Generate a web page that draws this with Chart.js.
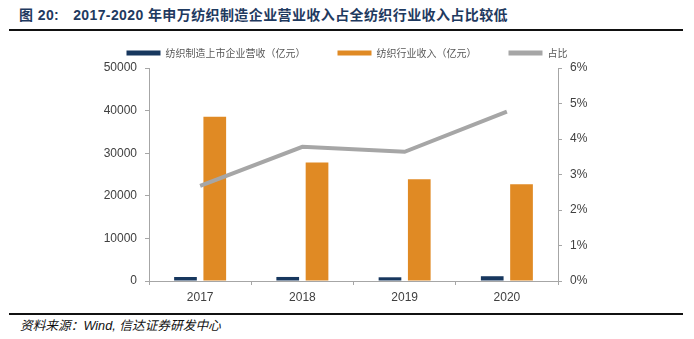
<!DOCTYPE html>
<html>
<head>
<meta charset="utf-8">
<script src="https://cdn.jsdelivr.net/npm/chart.js@4.4.1/dist/chart.umd.min.js"></script>
<style>
  html, body { margin: 0; padding: 0; background: #fff; }
  #page { position: relative; width: 694px; height: 339px; overflow: hidden; }
  #title { position: absolute; left: 19px; top: 4px; font: bold 14px "Liberation Sans", "Noto Sans CJK SC", sans-serif; color: #1f3a60; white-space: nowrap; letter-spacing: 0.4px; }
  #title .num { margin-right: 14px; }
  .rule { position: absolute; left: 9px; width: 674px; height: 2px; background: #111; }
  #source { position: absolute; left: 20px; top: 315px; font: italic 12.7px "Liberation Sans", "Noto Sans CJK SC", sans-serif; color: #111; white-space: nowrap; }
  #wrap { position: absolute; left: 0; top: 11px; width: 694px; height: 297px; }
</style>
</head>
<body>
<div id="page">
  <div id="title"><span class="num">图 20:</span>2017-2020 年申万纺织制造企业营业收入占全纺织行业收入占比较低</div>
  <div class="rule" style="top:29px"></div>
  <div id="wrap"><canvas id="chart"></canvas></div>
  <div class="rule" style="top:313px"></div>
  <div id="source">资料来源：Wind, 信达证券研发中心</div>
</div>
<script>
// 数据
var years = ["2017", "2018", "2019", "2020"];
var listedRevenue = [940, 950, 870, 1120];        // 纺织制造上市企业营收（亿元）
var industryRevenue = [38560, 27800, 23900, 22700]; // 纺织行业收入（亿元）
var sharePct = [2.68, 3.78, 3.64, 4.77];           // 占比 %
var leftTicks = [0, 10000, 20000, 30000, 40000, 50000];
var rightTicks = [0, 1, 2, 3, 4, 5, 6];

var axisGray = "#a6a6a6";
var tickFont = { family: "Liberation Sans", size: 12 };

var ctx = document.getElementById('chart').getContext('2d');
new Chart(ctx, {
  type: 'bar',
  data: {
    labels: years,
    datasets: [
      {
        label: "纺织制造上市企业营收（亿元）",
        data: listedRevenue,
        backgroundColor: "#17375e",
        yAxisID: 'y',
        order: 2,
        categoryPercentage: 0.573,
        barPercentage: 0.775
      },
      {
        label: "纺织行业收入（亿元）",
        data: industryRevenue,
        backgroundColor: "#e08a24",
        yAxisID: 'y',
        order: 2,
        categoryPercentage: 0.573,
        barPercentage: 0.775
      },
      {
        type: 'line',
        label: "占比",
        data: sharePct,
        borderColor: "#a6a6a6",
        backgroundColor: "#a6a6a6",
        borderWidth: 4,
        pointRadius: 0,
        tension: 0,
        yAxisID: 'y1',
        order: 1
      }
    ]
  },
  options: {
    responsive: true,
    maintainAspectRatio: false,
    animation: false,
    layout: { padding: 0 },
    plugins: {
      tooltip: { enabled: false },
      legend: {
        position: 'top',
        labels: {
          boxWidth: 34,
          boxHeight: 5,
          padding: 32,
          color: "#595959",
          font: { family: "Noto Sans CJK SC", size: 10 },
          generateLabels: function (chart) {
            return chart.data.datasets.map(function (ds, i) {
              return {
                text: ds.label,
                fillStyle: ds.backgroundColor,
                strokeStyle: ds.backgroundColor,
                lineWidth: 0,
                hidden: false,
                datasetIndex: i,
                fontColor: "#595959"
              };
            });
          }
        }
      }
    },
    scales: {
      x: {
        afterFit: function (s) { s.height = 27; },
        grid: { drawOnChartArea: false, drawTicks: true, tickLength: 4, color: axisGray, offset: true },
        border: { color: axisGray, width: 1 },
        ticks: { color: "#404040", font: tickFont, padding: 5 }
      },
      y: {
        position: 'left',
        min: 0,
        max: leftTicks[leftTicks.length - 1],
        // fixed width, and push the plot top down to line up with the reference
        afterFit: function (s) { s.width = 149; s.paddingTop = 57; },
        afterBuildTicks: function (s) { s.ticks = leftTicks.map(function (v) { return { value: v }; }); },
        grid: { drawOnChartArea: false, drawTicks: true, tickLength: 4, color: axisGray },
        border: { color: axisGray, width: 1 },
        ticks: {
          color: "#404040", font: tickFont, padding: 8,
          callback: function (v) { return String(v); }
        }
      },
      y1: {
        position: 'right',
        min: 0,
        max: rightTicks[rightTicks.length - 1],
        afterFit: function (s) { s.width = 136; },
        afterBuildTicks: function (s) { s.ticks = rightTicks.map(function (v) { return { value: v }; }); },
        grid: { drawOnChartArea: false, drawTicks: true, tickLength: 4, color: axisGray },
        border: { color: axisGray, width: 1 },
        ticks: {
          color: "#404040", font: tickFont, padding: 8,
          callback: function (v) { return v + '%'; }
        }
      }
    }
  }
});
</script>
</body>
</html>
